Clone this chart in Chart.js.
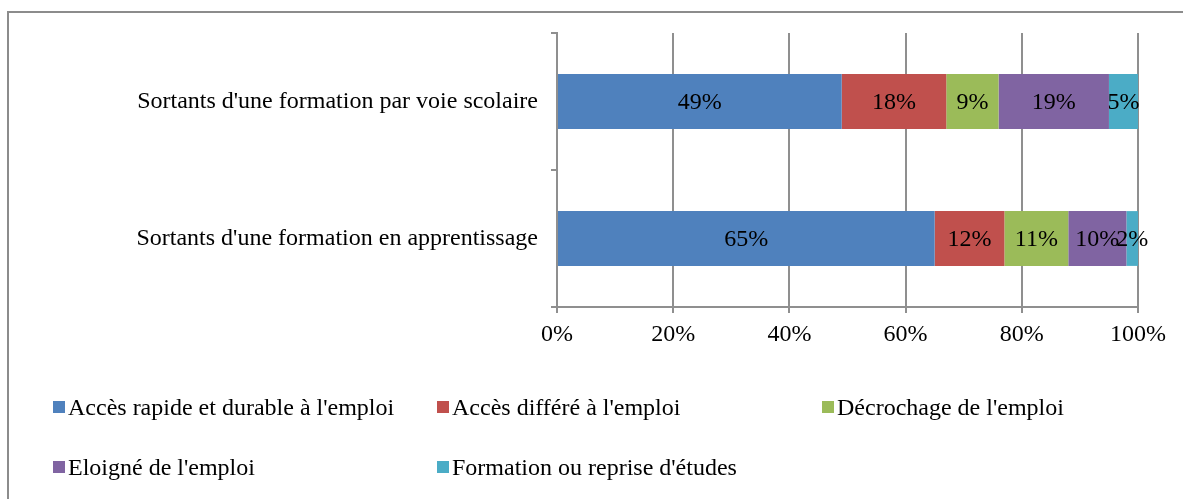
<!DOCTYPE html>
<html lang="fr">
<head>
<meta charset="utf-8">
<title>Situation des sortants de formation</title>
<script src="https://cdn.jsdelivr.net/npm/chart.js@4/dist/chart.umd.min.js"></script>
<style>
  html, body { margin: 0; padding: 0; background: #ffffff; }
  #wrap { position: relative; width: 1183px; height: 499px; overflow: hidden; }
  #frame {
    position: absolute; left: 7px; top: 11px; width: 1200px; height: 520px;
    border-left: 2px solid #8c8c8c; border-top: 2px solid #8c8c8c;
    box-sizing: border-box;
  }
  #chart { position: absolute; left: 0; top: 0; }
  .lg {
    position: absolute; height: 28px; display: flex; align-items: center;
    font-family: "Liberation Serif", "Times New Roman", serif; font-size: 24px; color: #000;
    white-space: nowrap;
  }
  .lg span.sw { display: inline-block; width: 12px; height: 12px; margin-right: 3px; }
</style>
</head>
<body>
<div id="wrap">
  <div id="frame"></div>
  <canvas id="chart" width="1183" height="499"></canvas>
  <div id="legend"></div>
</div>
<script>
// Categories (top to bottom)
const categories = [
  "Sortants d'une formation par voie scolaire",
  "Sortants d'une formation en apprentissage"
];

// Series names and colours
const seriesNames = [
  "Accès rapide et durable à l'emploi",
  "Accès différé à l'emploi",
  "Décrochage de l'emploi",
  "Eloigné de l'emploi",
  "Formation ou reprise d'études"
];
const seriesColors = ["#4F81BD", "#C0504D", "#9BBB59", "#8064A2", "#4BACC6"];

// Shares in percent, one array per series: [voie scolaire, apprentissage]
const accesRapide = [49, 65];
const accesDiffere = [18, 12];
const decrochage = [9, 11];
const eloigne = [19, 10];
const formationReprise = [5, 2];

// x-axis ticks
const xTicks = [0, 20, 40, 60, 80, 100];

const seriesValues = [accesRapide, accesDiffere, decrochage, eloigne, formationReprise];

const FONT = "'Liberation Serif', 'Times New Roman', serif";
const FONT_SIZE = 24;
const GRID = "#8f8f8f";

// Writes each segment's percentage in the middle of the segment
const segmentLabels = {
  id: 'segmentLabels',
  afterDatasetsDraw(chart) {
    const ctx = chart.ctx;
    ctx.save();
    ctx.font = FONT_SIZE + "px " + FONT;
    ctx.fillStyle = "#000";
    ctx.textAlign = "center";
    ctx.textBaseline = "middle";
    chart.data.datasets.forEach((ds, di) => {
      const meta = chart.getDatasetMeta(di);
      meta.data.forEach((bar, i) => {
        const p = bar.getProps(['x', 'y', 'base'], true);
        ctx.fillText(ds.data[i] + "%", (p.x + p.base) / 2, p.y + 1);
      });
    });
    ctx.restore();
  }
};

new Chart(document.getElementById('chart'), {
  type: 'bar',
  data: {
    labels: categories,
    datasets: seriesNames.map((name, k) => ({
      label: name,
      data: seriesValues[k],
      backgroundColor: seriesColors[k],
      borderWidth: 0,
      barPercentage: 0.4,
      categoryPercentage: 1.0
    }))
  },
  options: {
    indexAxis: 'y',
    responsive: false,
    animation: false,
    devicePixelRatio: 1,
    layout: { padding: { top: 33, right: 45, bottom: 0, left: 0 } },
    plugins: { legend: { display: false }, tooltip: { enabled: false } },
    scales: {
      x: {
        stacked: true,
        min: 0, max: 100,
        afterBuildTicks(scale) { scale.ticks = xTicks.map(v => ({ value: v })); },
        afterFit(scale) { scale.height = 192; },
        ticks: {
          color: "#000",
          font: { family: FONT, size: FONT_SIZE },
          padding: 7,
          maxRotation: 0,
          callback: v => v + "%"
        },
        grid: { color: GRID, lineWidth: 2, drawTicks: true, tickLength: 6, tickColor: GRID },
        border: { display: true, color: GRID, width: 2 }
      },
      y: {
        stacked: true,
        afterFit(scale) { scale.width = 557; },
        ticks: {
          color: "#000",
          font: { family: FONT, size: FONT_SIZE },
          padding: 13
        },
        grid: { offset: true, drawOnChartArea: false, drawTicks: true, tickLength: 6, color: GRID, lineWidth: 2 },
        border: { display: true, color: GRID, width: 2 }
      }
    }
  },
  plugins: [segmentLabels]
});

// Legend laid out in three columns, two rows
const legendCols = [53, 437, 822];
const legendRows = [407, 467];
const legendEl = document.getElementById('legend');
seriesNames.forEach((name, k) => {
  const item = document.createElement('div');
  item.className = 'lg';
  item.style.left = legendCols[k % 3] + 'px';
  item.style.top = (legendRows[Math.floor(k / 3)] - 14) + 'px';
  const sw = document.createElement('span');
  sw.className = 'sw';
  sw.style.background = seriesColors[k];
  item.appendChild(sw);
  item.appendChild(document.createTextNode(name));
  legendEl.appendChild(item);
});
</script>
</body>
</html>
